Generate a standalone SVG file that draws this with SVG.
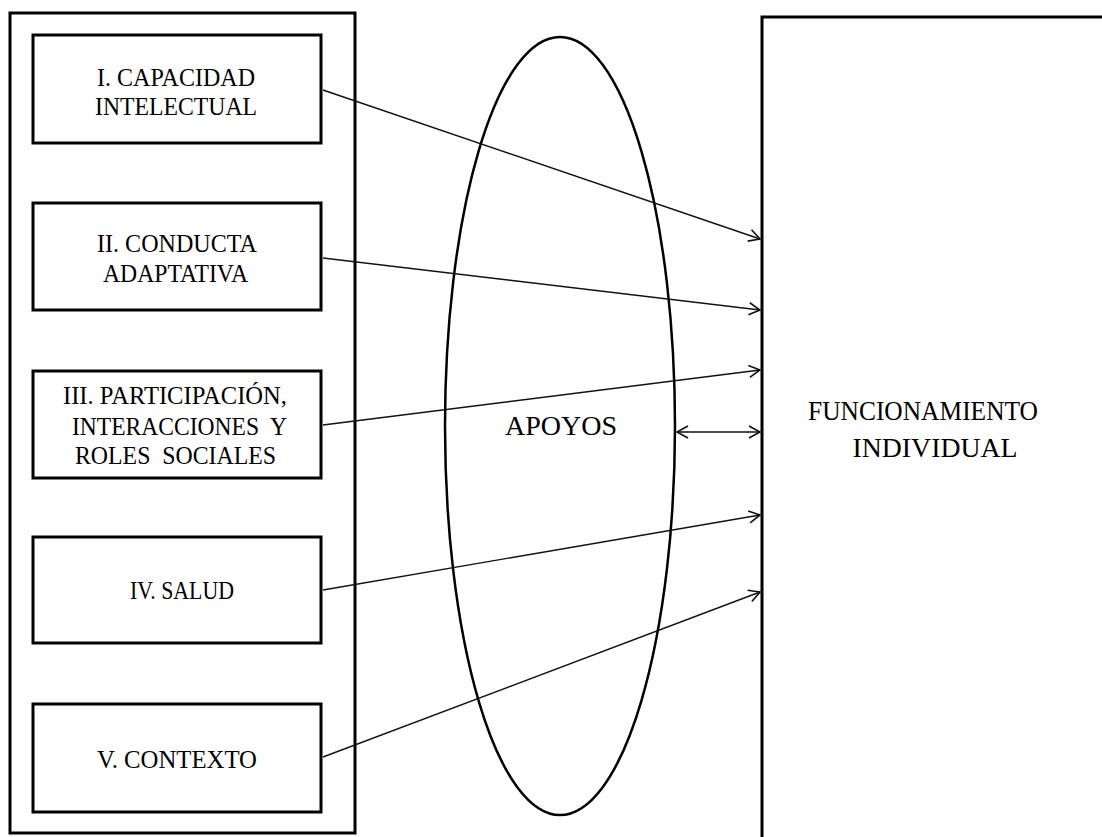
<svg xmlns="http://www.w3.org/2000/svg" width="1102" height="837" viewBox="0 0 1102 837">
<style>
.box{fill:#fff;stroke:#000;stroke-width:3}
.t{font-family:"Liberation Serif","Times New Roman",serif;font-size:25.5px;fill:#000;text-anchor:middle;white-space:pre}
.big{font-size:26.5px}
.c{stroke:#111;stroke-width:1.4;fill:none}
</style>
<defs>
<marker id="ah" markerUnits="userSpaceOnUse" markerWidth="16" markerHeight="16" viewBox="-12 -8 16 16" refX="0" refY="0" orient="auto-start-reverse">
<path d="M-11,-6 L0,0 L-11,6" fill="none" stroke="#111" stroke-width="1.6"/>
</marker>
</defs>
<rect x="0" y="0" width="1102" height="837" fill="#fff"/>
<g id="outer-left"><rect class="box" x="10" y="13" width="345" height="820"/></g>
<g id="funcionamiento">
<rect class="box" x="762" y="17" width="400" height="900"/>
<text class="t big" x="923" y="420" textLength="230" lengthAdjust="spacingAndGlyphs">FUNCIONAMIENTO</text>
<text class="t big" x="935" y="457" textLength="165" lengthAdjust="spacingAndGlyphs">INDIVIDUAL</text>
</g>
<g id="apoyos">
<ellipse cx="560" cy="426" rx="115" ry="389" fill="none" stroke="#000" stroke-width="2.5"/>
<text class="t big" x="561" y="435" textLength="112" lengthAdjust="spacingAndGlyphs">APOYOS</text>
</g>
<g id="n1"><rect class="box" x="33" y="35" width="288" height="108"/>
<text class="t" x="176" y="86" textLength="158" lengthAdjust="spacingAndGlyphs">I. CAPACIDAD</text>
<text class="t" x="176" y="115" textLength="162" lengthAdjust="spacingAndGlyphs">INTELECTUAL</text></g>
<g id="n2"><rect class="box" x="33" y="203" width="288" height="107"/>
<text class="t" x="177" y="252" textLength="160" lengthAdjust="spacingAndGlyphs">II. CONDUCTA</text>
<text class="t" x="175.5" y="282" textLength="145" lengthAdjust="spacingAndGlyphs">ADAPTATIVA</text></g>
<g id="n3"><rect class="box" x="33" y="371" width="288" height="107"/>
<text class="t" x="175" y="404" textLength="224" lengthAdjust="spacingAndGlyphs">III. PARTICIPACIÓN,</text>
<text class="t" x="179.5" y="435" textLength="215" lengthAdjust="spacingAndGlyphs">INTERACCIONES  Y</text>
<text class="t" x="175.5" y="464" textLength="201" lengthAdjust="spacingAndGlyphs">ROLES  SOCIALES</text></g>
<g id="n4"><rect class="box" x="33" y="537" width="288" height="106"/>
<text class="t" x="182" y="599" textLength="104" lengthAdjust="spacingAndGlyphs">IV. SALUD</text></g>
<g id="n5"><rect class="box" x="33" y="704" width="288" height="108"/>
<text class="t" x="177" y="768" textLength="160" lengthAdjust="spacingAndGlyphs">V. CONTEXTO</text></g>
<g id="connectors">
<line class="c" x1="323" y1="90" x2="760" y2="239" marker-end="url(#ah)"/>
<line class="c" x1="323" y1="258" x2="760" y2="310" marker-end="url(#ah)"/>
<line class="c" x1="323" y1="425" x2="760" y2="370" marker-end="url(#ah)"/>
<line class="c" x1="323" y1="590" x2="760" y2="515" marker-end="url(#ah)"/>
<line class="c" x1="323" y1="757" x2="760" y2="592" marker-end="url(#ah)"/>
<line class="c" x1="677" y1="432" x2="760" y2="432" marker-start="url(#ah)" marker-end="url(#ah)"/>
</g>
</svg>
